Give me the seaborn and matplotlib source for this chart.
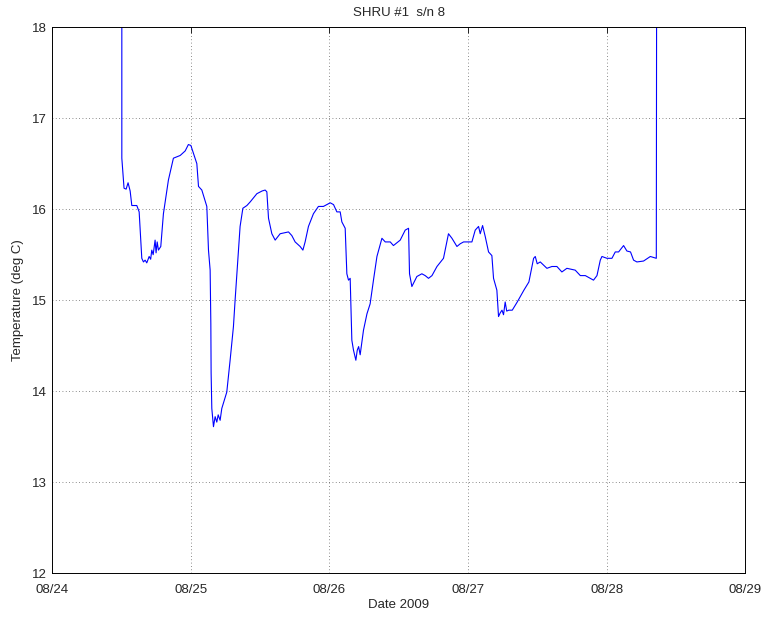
import matplotlib
matplotlib.use("Agg")
import matplotlib.pyplot as plt
import matplotlib.dates as mdates
import seaborn as sns
import pandas as pd

# days after 2009-08-24 00:00 and temperature (deg C)
days = [0.503, 0.503, 0.519, 0.534, 0.548, 0.563, 0.575, 0.611, 0.628, 0.647,
        0.659, 0.671, 0.683, 0.700, 0.711, 0.719, 0.729, 0.743, 0.750, 0.758,
        0.767, 0.784, 0.803, 0.839, 0.875, 0.924, 0.960, 0.983, 1.001, 1.020,
        1.044, 1.056, 1.080, 1.116, 1.128, 1.140, 1.145, 1.147, 1.152, 1.164,
        1.176, 1.188, 1.198, 1.212, 1.224, 1.260, 1.284, 1.308, 1.320, 1.333,
        1.356, 1.376, 1.405, 1.429, 1.477, 1.515, 1.537, 1.549, 1.561, 1.585,
        1.609, 1.645, 1.705, 1.729, 1.753, 1.789, 1.809, 1.825, 1.849, 1.885,
        1.921, 1.957, 2.006, 2.030, 2.054, 2.078, 2.090, 2.114, 2.126, 2.138,
        2.150, 2.162, 2.174, 2.191, 2.201, 2.211, 2.222, 2.246, 2.271, 2.294,
        2.318, 2.343, 2.379, 2.403, 2.439, 2.462, 2.511, 2.547, 2.571, 2.578,
        2.595, 2.631, 2.667, 2.691, 2.715, 2.740, 2.776, 2.823, 2.859, 2.884,
        2.920, 2.944, 2.968, 3.028, 3.052, 3.076, 3.088, 3.105, 3.124, 3.148,
        3.172, 3.184, 3.208, 3.220, 3.232, 3.245, 3.256, 3.268, 3.279, 3.294,
        3.319, 3.355, 3.403, 3.439, 3.473, 3.485, 3.499, 3.521, 3.569, 3.605,
        3.641, 3.677, 3.713, 3.773, 3.810, 3.846, 3.882, 3.905, 3.930, 3.954,
        3.966, 4.002, 4.038, 4.062, 4.086, 4.122, 4.146, 4.172, 4.194, 4.218,
        4.266, 4.315, 4.358, 4.363]
temps = [22.0, 16.56, 16.23, 16.22, 16.29, 16.20, 16.04, 16.04, 15.97, 15.46,
         15.42, 15.44, 15.41, 15.48, 15.45, 15.55, 15.50, 15.66, 15.52, 15.64,
         15.55, 15.59, 15.95, 16.32, 16.56, 16.59, 16.64, 16.71, 16.70, 16.61,
         16.50, 16.25, 16.21, 16.03, 15.55, 15.33, 14.74, 14.20, 13.81, 13.61,
         13.72, 13.66, 13.74, 13.68, 13.81, 13.99, 14.34, 14.71, 15.00, 15.29,
         15.81, 16.01, 16.04, 16.08, 16.17, 16.20, 16.21, 16.19, 15.90, 15.73,
         15.66, 15.73, 15.75, 15.71, 15.64, 15.59, 15.55, 15.64, 15.81, 15.95,
         16.03, 16.03, 16.07, 16.05, 15.97, 15.97, 15.86, 15.79, 15.29, 15.22,
         15.24, 14.56, 14.45, 14.34, 14.45, 14.49, 14.40, 14.67, 14.85, 14.96,
         15.22, 15.48, 15.68, 15.64, 15.64, 15.60, 15.66, 15.77, 15.79, 15.29,
         15.15, 15.26, 15.29, 15.27, 15.24, 15.27, 15.37, 15.46, 15.73, 15.68,
         15.59, 15.62, 15.64, 15.64, 15.77, 15.81, 15.73, 15.82, 15.70, 15.53,
         15.49, 15.24, 15.11, 14.82, 14.86, 14.89, 14.84, 14.98, 14.88, 14.89,
         14.89, 14.98, 15.11, 15.20, 15.46, 15.48, 15.40, 15.42, 15.35, 15.37,
         15.37, 15.31, 15.35, 15.33, 15.27, 15.27, 15.24, 15.22, 15.27, 15.44,
         15.48, 15.46, 15.46, 15.53, 15.53, 15.60, 15.54, 15.53, 15.44, 15.42,
         15.43, 15.48, 15.46, 22.0]

start = pd.Timestamp("2009-08-24")
df = pd.DataFrame({"time": start + pd.to_timedelta(days, unit="D"), "temp": temps})

sns.set_style("white")
plt.rcParams["font.family"] = ["Liberation Sans", "DejaVu Sans"]

fig = plt.figure(figsize=(7.66, 6.17), dpi=100)
ax = fig.add_axes([0.068, 0.071, 0.905, 0.885])

sns.lineplot(data=df, x="time", y="temp", ax=ax, color="blue", linewidth=0.8,
             estimator=None, sort=False)

ax.set_xlim(start, start + pd.Timedelta(days=5))
ax.set_ylim(12, 18)
ax.xaxis.set_major_locator(mdates.DayLocator())
ax.xaxis.set_major_formatter(mdates.DateFormatter("%m/%d"))
ax.set_yticks(range(12, 19))

ax.grid(True, linestyle=(0, (1, 3)), color="black", linewidth=0.6, alpha=0.6)
ax.tick_params(direction="in", top=True, right=True, length=4, labelsize=9.5,
               color="black", width=0.6)
ax.tick_params(axis="x", pad=8)
for sp in ax.spines.values():
    sp.set_color("black")
    sp.set_linewidth(0.7)

ax.set_title("SHRU #1  s/n 8", fontsize=9.5, pad=8)
ax.set_xlabel("Date 2009", fontsize=9.5, labelpad=2)
ax.set_ylabel("Temperature (deg C)", fontsize=9.5, labelpad=6)

fig.savefig("out.png", dpi=100)
